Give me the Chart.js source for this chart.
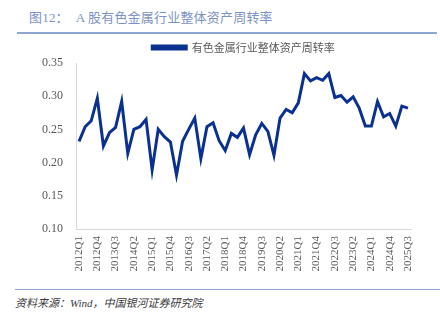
<!DOCTYPE html>
<html>
<head>
<meta charset="utf-8">
<script src="https://cdn.jsdelivr.net/npm/chart.js@4/dist/chart.umd.min.js"></script>
<style>
  html, body { margin: 0; padding: 0; background: #fff; }
  body { width: 440px; height: 321px; position: relative; overflow: hidden;
         font-family: "Noto Sans CJK SC", "Liberation Serif", serif; }
  #title { position: absolute; left: 29px; top: 7px; font-size: 13px; color: #7d92c4;
           font-family: "Liberation Serif", "Noto Sans CJK SC", serif; letter-spacing: 0.2px; }
  #title-rule { position: absolute; left: 17px; top: 32px; width: 420px; height: 2px; background: #8ea6d2; }
  #wrap { position: absolute; left: 0; top: 39px; width: 440px; height: 247px; }
  #foot-rule { position: absolute; left: 15px; top: 289px; width: 425px; height: 1px; background: #8ea6d2; }
  #source { position: absolute; left: 15px; top: 294px; font-size: 11px; color: #3a3a3a;
            font-style: italic; font-family: "Liberation Serif", "Noto Sans CJK SC", serif; }
</style>
</head>
<body>
<div id="title">图12：&nbsp;&nbsp;A 股有色金属行业整体资产周转率</div>
<div id="title-rule"></div>
<div id="wrap"><canvas id="c"></canvas></div>
<div id="foot-rule"></div>
<div id="source">资料来源：Wind，中国银河证券研究院</div>
<script>
'use strict';

// quarters 2012Q1 .. 2025Q3
const quarters = [];
for (let y = 2012; y <= 2025; y++) {
  for (let q = 1; q <= 4; q++) {
    if (y === 2025 && q > 3) break;
    quarters.push(y + 'Q' + q);
  }
}

const seriesName = '有色金属行业整体资产周转率';

const turnover = [
  0.232, 0.254, 0.263, 0.297, 0.225, 0.245, 0.253, 0.292,
  0.214, 0.250, 0.254, 0.265, 0.189, 0.250, 0.239, 0.231,
  0.181, 0.232, 0.250, 0.267, 0.206, 0.254, 0.260, 0.233,
  0.218, 0.244, 0.238, 0.252, 0.212, 0.242, 0.259, 0.247,
  0.211, 0.267, 0.280, 0.275, 0.290, 0.334, 0.323, 0.328,
  0.324, 0.334, 0.298, 0.301, 0.291, 0.299, 0.282, 0.255,
  0.255, 0.292, 0.269, 0.274, 0.255, 0.285, 0.282
];

const yTicks = [0.10, 0.15, 0.20, 0.25, 0.30, 0.35];

new Chart(document.getElementById('c'), {
  type: 'line',
  data: {
    labels: quarters,
    datasets: [{
      label: seriesName,
      data: turnover,
      borderColor: '#0b3190',
      backgroundColor: '#0b3190',
      borderWidth: 3,
      pointRadius: 0,
      tension: 0,
      fill: false,
    }]
  },
  options: {
    responsive: true,
    maintainAspectRatio: false,
    animation: false,
    events: [],
    layout: { padding: { left: 0, right: 29, top: 0, bottom: 0 } },
    plugins: {
      legend: {
        display: true,
        position: 'top',
        fullSize: false,
        labels: {
          boxWidth: 34,
          boxHeight: 3,
          padding: 3,
          color: '#595959',
          font: { size: 11, family: "'Noto Sans CJK SC', serif" },
        }
      },
      tooltip: { enabled: false },
    },
    scales: {
      x: {
        offset: true,
        grid: { display: false, drawTicks: false },
        border: { display: true, color: '#d9d9d9', width: 1 },
        ticks: {
          autoSkip: false,
          maxRotation: 90,
          minRotation: 90,
          padding: 7,
          color: '#595959',
          font: { size: 11, family: "'Liberation Serif', serif" },
          callback: (v, i) => (i % 3 === 0 ? quarters[i] : ''),
        },
        afterFit: s => { s.height = 57; },
      },
      y: {
        min: 0.10,
        max: 0.35,
        grid: { display: false, drawTicks: false },
        border: { display: true, color: '#d9d9d9', width: 1 },
        afterBuildTicks: s => { s.ticks = yTicks.map(v => ({ value: v })); },
        ticks: {
          padding: 13,
          color: '#595959',
          font: { size: 12, family: "'Liberation Serif', serif" },
          callback: v => v.toFixed(2),
        },
        afterFit: s => { s.width = 76; },
      }
    }
  }
});
</script>
</body>
</html>
